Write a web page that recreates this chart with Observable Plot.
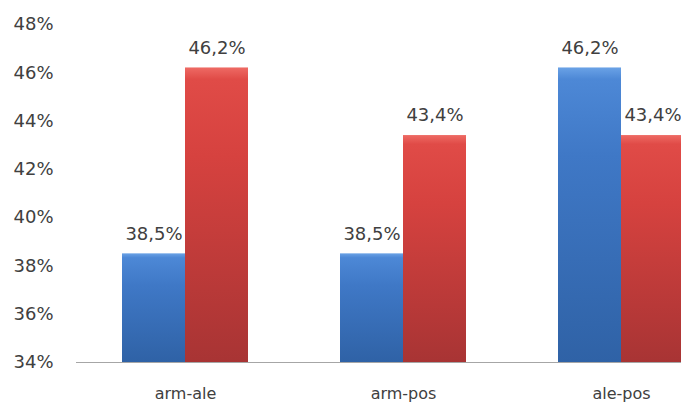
<!DOCTYPE html>
<html>
<head>
<meta charset="utf-8">
<script src="https://cdn.jsdelivr.net/npm/d3@7"></script>
<script src="https://cdn.jsdelivr.net/npm/@observablehq/plot@0.6"></script>
<style>
  html, body { margin: 0; padding: 0; background: #fff; }
  #chart { width: 681px; height: 403px; overflow: hidden; }
  #chart svg { max-width: none !important; }
</style>
</head>
<body>
<div id="chart"></div>
<script>
const categories = ["arm-ale", "arm-pos", "ale-pos"];
const seriesNames = ["blue", "red"];
const blueValues = [0.385, 0.385, 0.462];
const redValues = [0.462, 0.434, 0.434];
const yTicks = [0.34, 0.36, 0.38, 0.40, 0.42, 0.44, 0.46, 0.48];

const data = [];
categories.forEach((c, i) => {
  data.push({category: c, series: "blue", value: blueValues[i]});
  data.push({category: c, series: "red", value: redValues[i]});
});

const locale = d3.formatLocale({decimal: ",", thousands: ".", grouping: [3], currency: ["", "€"]});
const pct1 = locale.format(".1%");
const pct0 = locale.format(".0%");

const textColor = "#404040";

const chart = Plot.plot({
  width: 730,
  height: 403,
  marginLeft: 76,
  marginRight: 0,
  marginTop: 24,
  marginBottom: 41,
  facet: {marginTop: 0, marginBottom: 0, marginLeft: 0, marginRight: 0},
  style: {fontFamily: "DejaVu Sans", background: "#fff", maxWidth: "none"},
  fx: {domain: categories, padding: 0, axis: null, label: null},
  x: {domain: seriesNames, paddingInner: 0, paddingOuter: 0.73, axis: null},
  y: {domain: [0.34, 0.48], clamp: true, axis: null, label: null},
  marks: [
    Plot.axisY({ticks: yTicks, tickFormat: pct0, tickSize: 0, tickPadding: 23, fontSize: 18, fill: textColor, label: null}),
    Plot.axisFx({anchor: "bottom", tickSize: 0, tickPadding: 25, fontSize: 16, fill: textColor, label: null}),
    Plot.barY(data, {filter: d => d.series === "blue", fx: "category", x: "series", y: "value", fill: "url(#gBlue)", inset: 0}),
    Plot.barY(data, {filter: d => d.series === "red", fx: "category", x: "series", y: "value", fill: "url(#gRed)", inset: 0}),
    Plot.ruleY([0.34], {stroke: "#a6a6a6", strokeWidth: 1}),
    Plot.text(data, {fx: "category", x: "series", y: "value", text: d => pct1(d.value), dy: -20, fontSize: 18, fill: textColor})
  ]
});

const svgEl = chart.tagName.toLowerCase() === "svg" ? chart : chart.querySelector("svg");
svgEl.style.maxWidth = "none";
const defs = d3.select(svgEl).insert("defs", ":first-child");
function grad(id, stops) {
  const g = defs.append("linearGradient").attr("id", id).attr("x1", 0).attr("y1", 0).attr("x2", 0).attr("y2", 1);
  stops.forEach(([o, c]) => g.append("stop").attr("offset", o).attr("stop-color", c));
}
grad("gBlue", [[0, "#6aa2e6"], [0.04, "#4d88d6"], [0.3, "#3f78c6"], [1, "#2f62a6"]]);
grad("gRed", [[0, "#ee6a64"], [0.04, "#e04b47"], [0.3, "#d6423f"], [1, "#a83434"]]);

document.getElementById("chart").appendChild(chart);
</script>
</body>
</html>
